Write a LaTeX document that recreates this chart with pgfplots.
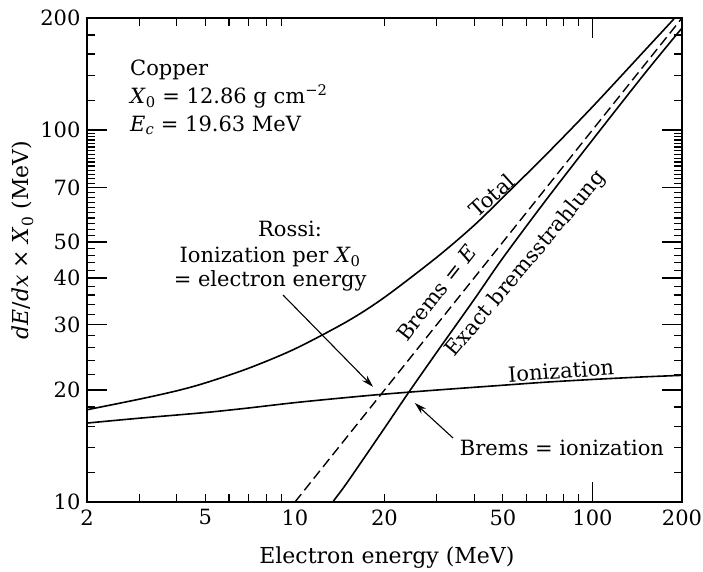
\documentclass[border=0pt]{standalone}
\usepackage{fontspec}
\setmainfont{DejaVu Serif}
\usepackage{pgfplots}
\pgfplotsset{compat=1.18}
\usetikzlibrary{arrows.meta}

\newcommand{\lbl}{\fontsize{21}{25}\selectfont}
\pgfplotsset{tickmark/.style={black, line width=1.1pt, forget plot}}

% Ionization loss per radiation length (MeV)
\pgfplotstableread{
E     V
2     16.3
3     16.8
5     17.4
7     17.9
10    18.5
15    19.1
20    19.5
30    20.0
50    20.6
70    21.0
100   21.35
150   21.7
200   21.9
}\ionization

% Exact bremsstrahlung loss per radiation length (MeV)
\pgfplotstableread{
E     V
12    8.8
13.4  10.0
15    11.3
20    15.8
24    19.6
30    25.3
40    35.0
50    45.3
70    65.0
100   94
150   142
200   188
}\brems

% Total loss per radiation length (MeV)
\pgfplotstableread{
E     V
2     17.7
3     18.9
4     19.9
5     20.9
7     22.9
10    25.8
15    30.6
20    35.5
30    45.5
40    55.4
50    65.9
70    86
100   115.4
150   163.7
200   209.9
}\total

\begin{document}
\begin{tikzpicture}
\path[use as bounding box] (-87pt,-69pt) rectangle (616pt,502pt);
\begin{axis}[
  at={(0pt,0pt)}, anchor=south west,
  scale only axis, width=595pt, height=484pt,
  xmode=log, ymode=log,
  xmin=2, xmax=200, ymin=10, ymax=200,
  axis line style={line width=1.5pt},
  major tick length=0pt, minor tick length=0pt,
  xtick={2,5,10,20,50,100,200},
  xticklabels={2,5,10,20,50,100,200},
  ytick={10,20,30,40,50,70,100,200},
  yticklabels={10,20,30,40,50,70,100,200},
  /pgf/number format/assume math mode=true,
  tick label style={font=\lbl},
  xticklabel style={yshift=-4pt},
  yticklabel style={xshift=-3pt},
  label style={font=\fontsize{22}{26}\selectfont},
  xlabel={Electron energy (MeV)},
  ylabel={\textit{dE}/\textit{dx} × \textit{X}\textsubscript{0} (MeV)},
  xlabel style={at={(axis description cs:0.504,-0.128)}, anchor=base},
  ylabel style={at={(axis description cs:-0.108,0.541)}, anchor=center},
]
% Curves
\addplot[black, line width=1.6pt, smooth] table[x=E, y=V] {\ionization};
\addplot[black, line width=1.6pt, smooth] table[x=E, y=V] {\brems};
\addplot[black, line width=1.6pt, smooth] table[x=E, y=V] {\total};
% Rossi approximation: brems loss equals the energy
\addplot[black, line width=1.4pt, dash pattern=on 10pt off 5pt] coordinates {(10,10) (200,200)};

% Tick marks on all four sides: short ones, and long ones at the main values
\pgfplotsinvokeforeach{3,4,5,6,7,8,9,20,30,40,50,60,70,80,90}{
  \addplot[tickmark] coordinates {(#1,10) (#1,10.51)};
  \addplot[tickmark] coordinates {(#1,200) (#1,190.3)};
}
\addplot[tickmark] coordinates {(100,10) (100,11.32)};
\addplot[tickmark] coordinates {(100,200) (100,176.7)};
\pgfplotsinvokeforeach{12,14,16,18,22,24,26,28,32,34,36,38,42,44,46,48,52,54,56,58,60,62,64,66,68,72,74,76,78,80,82,84,86,88,90,92,94,96,98,120,140,160,180}{
  \addplot[tickmark] coordinates {(2,#1) (2.128,#1)};
  \addplot[tickmark] coordinates {(200,#1) (188.0,#1)};
}
\pgfplotsinvokeforeach{20,30,40,50,70,100}{
  \addplot[tickmark] coordinates {(2,#1) (2.335,#1)};
  \addplot[tickmark] coordinates {(200,#1) (171.3,#1)};
}

% Material data
\node[font=\lbl, inner sep=0pt, anchor=base west] at (axis cs:2.79,139.7) {Copper};
\node[font=\lbl, inner sep=0pt, anchor=base west] at (axis cs:2.79,117.8) {\textit{X}\textsubscript{0} = 12.86 g cm\textsuperscript{−2}};
\node[font=\lbl, inner sep=0pt, anchor=base west] at (axis cs:2.79,99.1) {\textit{E}\textsubscript{\textit{c}} = 19.63 MeV};

% Rossi definition
\node[font=\lbl, inner sep=0pt, anchor=base] at (axis cs:9.63,51.6) {Rossi:};
\node[font=\lbl, inner sep=0pt, anchor=base] at (axis cs:8.25,43.9) {Ionization per \textit{X}\textsubscript{0}};
\node[font=\lbl, inner sep=0pt, anchor=base] at (axis cs:8.25,37.96) {= electron energy};
\draw[-{Stealth[length=12pt,width=7pt]}, line width=1.1pt] (axis cs:9.12,36.0) -- (axis cs:18.3,20.4);

% Curve labels
\node[font=\lbl, inner sep=0pt, rotate=42] at (axis cs:45.8,66.7) {Total};
\node[font=\lbl, inner sep=0pt, rotate=52] at (axis cs:29.9,36.5) {Brems = \textit{E}};
\node[font=\lbl, inner sep=0pt, rotate=50] at (axis cs:59.8,43.6) {Exact bremsstrahlung};
\node[font=\lbl, inner sep=0pt, rotate=4] at (axis cs:78.4,22.5) {Ionization};
\node[font=\lbl, inner sep=0pt] at (axis cs:79,13.97) {Brems = ionization};
\draw[-{Stealth[length=12pt,width=7pt]}, line width=1.1pt] (axis cs:34.0,14.86) -- (axis cs:25.3,18.45);
\end{axis}
\end{tikzpicture}
\end{document}
